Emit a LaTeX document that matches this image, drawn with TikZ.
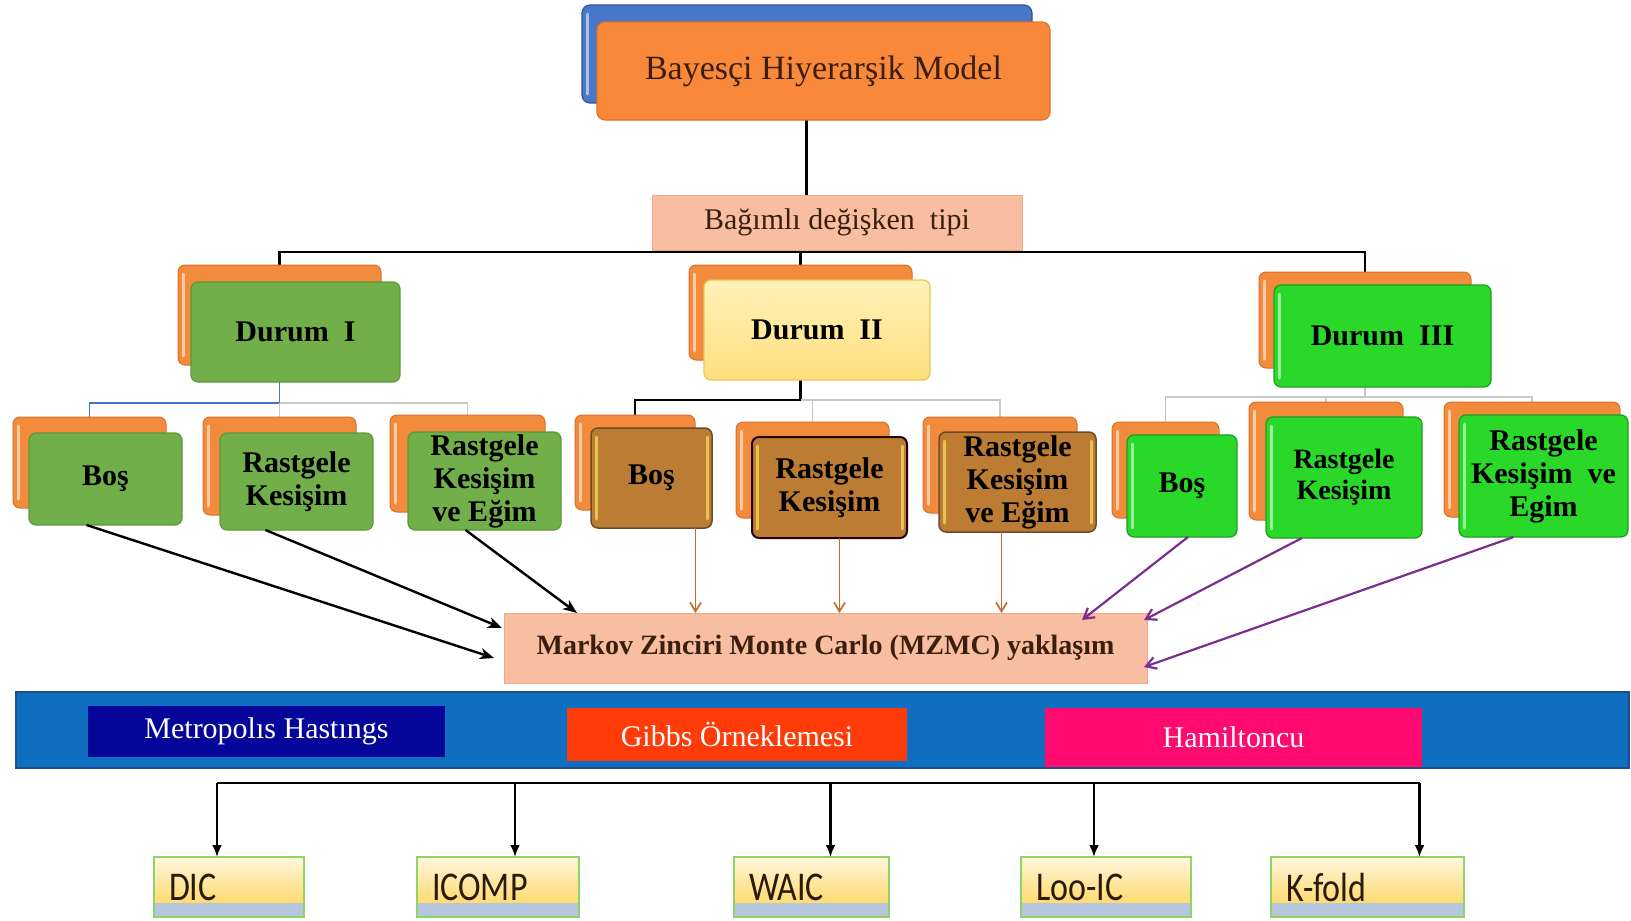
\documentclass[tikz,border=0pt]{standalone}
\usepackage{fontspec}
\usepackage{graphicx}
\setmainfont{Liberation Serif}
\newfontfamily\calfont{Carlito}
\usetikzlibrary{arrows.meta}
\pgfdeclarelayer{bg}
\pgfsetlayers{bg,main}
\definecolor{orback}{HTML}{F28C3C}
\definecolor{orbackd}{HTML}{D9712A}
\definecolor{bblue}{HTML}{4A78C8}
\definecolor{bblued}{HTML}{2F5597}
\definecolor{bor}{HTML}{F8893A}
\definecolor{bord}{HTML}{E0742A}
\definecolor{gone}{HTML}{72AE4A}
\definecolor{goned}{HTML}{5C9A3A}
\definecolor{ytop}{HTML}{FFF2B8}
\definecolor{ybot}{HTML}{FFDF7E}
\definecolor{yd}{HTML}{EAC45A}
\definecolor{brn}{HTML}{BC7C34}
\definecolor{brnd}{HTML}{6E4A2A}
\definecolor{gthree}{HTML}{2AD82A}
\definecolor{gthreed}{HTML}{1E9E1E}
\definecolor{salm}{HTML}{F8BEA2}
\definecolor{salmd}{HTML}{F0A888}
\definecolor{bandc}{HTML}{0E6FC1}
\definecolor{bandd}{HTML}{1F4E8F}
\definecolor{mhc}{HTML}{05059A}
\definecolor{gibc}{HTML}{FF3B0A}
\definecolor{hamc}{HTML}{FF0A6E}
\definecolor{txtd}{HTML}{3B1E0E}
\definecolor{orarr}{HTML}{C46A2C}
\definecolor{purarr}{HTML}{7A2E8E}
\definecolor{lgray}{HTML}{C8C8C8}
\definecolor{linkblue}{HTML}{4472C4}
\definecolor{crtop}{HTML}{FFF6DE}
\definecolor{crbot}{HTML}{FFD24D}
\definecolor{strip}{HTML}{B4C7DC}
\definecolor{bxgreen}{HTML}{8FD46A}
\definecolor{crtxt}{HTML}{2A1A0A}
\newcommand\placebox[8][]{%
  \pgfmathsetmacro\pbcx{(#4+#6)/2}\pgfmathsetmacro\pbcy{(#5+#7)/2}%
  \pgfmathsetmacro\pbw{#6-#4}\pgfmathsetmacro\pbh{#7-#5}%
  \node[#3, minimum width=\pbw pt, minimum height=\pbh pt, #1] (#2) at (\pbcx,\pbcy) {#8};}
\begin{document}
\begin{tikzpicture}[x=1pt,y=-1pt,
  every node/.style={inner sep=0pt, outer sep=0pt},
  hil/.style={path picture={\draw[#1, line width=3pt, opacity=0.55, line cap=round] ([xshift=5pt,yshift=-9pt]path picture bounding box.north west) -- ([xshift=5pt,yshift=9pt]path picture bounding box.south west);}},
  hilr/.style={path picture={\draw[#1, line width=3pt, opacity=0.6, line cap=round] ([xshift=5pt,yshift=-9pt]path picture bounding box.north west) -- ([xshift=5pt,yshift=9pt]path picture bounding box.south west);
      \draw[#1, line width=3pt, opacity=0.6, line cap=round] ([xshift=-5pt,yshift=-9pt]path picture bounding box.north east) -- ([xshift=-5pt,yshift=9pt]path picture bounding box.south east);}},
  backbox/.style={rounded corners=7pt, fill=orback, draw=orbackd, line width=1pt, hil=white},
  gonebox/.style={rounded corners=7pt, fill=gone, draw=goned, line width=1.2pt, align=center, font=\fontsize{30}{33}\selectfont\bfseries},
  ybox/.style={rounded corners=7pt, top color=ytop, bottom color=ybot, draw=yd, line width=1.2pt, align=center, font=\fontsize{30}{33}\selectfont\bfseries},
  brbox/.style={rounded corners=7pt, fill=brn, draw=brnd, line width=1.5pt, hilr=yellow!60!white, align=center, font=\fontsize{30}{33}\selectfont\bfseries},
  gthbox/.style={rounded corners=7pt, fill=gthree, draw=gthreed, line width=1.2pt, hil=white, align=center, font=\fontsize{30}{33}\selectfont\bfseries},
  crit/.style={top color=crtop, bottom color=crbot, draw=bxgreen, line width=1.2pt, align=left, inner xsep=15pt, text=crtxt,
      font=\calfont\fontsize{34}{40}\selectfont,
      path picture={\fill[strip] (path picture bounding box.south west) rectangle ([yshift=14pt]path picture bounding box.south east);}},
  bandtxt/.style={text=white, font=\fontsize{30}{34}\selectfont},
  blk/.style={line width=2.4pt, -{Stealth[length=14pt,width=11pt,inset=4pt]}},
  orr/.style={draw=orarr, line width=1.7pt, -{Straight Barb[length=9pt,width=11pt]}},
  pur/.style={draw=purarr, line width=2.2pt, -{Straight Barb[length=10pt,width=12pt]}},
  dwn/.style={line width=2.4pt, -{Latex[length=12pt,width=10pt]}},
  tree/.style={line width=2.5pt},
  ltree/.style={draw=lgray, line width=1.5pt}
]
\useasboundingbox (0,0) rectangle (1631,921);
\begin{pgfonlayer}{bg}
\fill[white] (0,0) rectangle (1631,921);
\end{pgfonlayer}

% top model
\placebox{bayesb}{rounded corners=8pt, fill=bblue, draw=bblued, line width=1.2pt, hil=white}{582}{5}{1032}{103}{}
\placebox{bayes}{rounded corners=8pt, fill=bor, draw=bord, line width=1.2pt, text=txtd, font=\fontsize{34}{38}\selectfont}{597}{22}{1050}{120}{\raisebox{-4pt}{Bayesçi Hiyerarşik Model}}
\placebox{bag}{fill=salm, draw=salmd, line width=1pt, text=txtd, font=\fontsize{30}{34}\selectfont}{652}{195}{1022}{250}{\raisebox{-3pt}{Bağımlı değişken\ \ tipi}}

% Durum boxes
\placebox{d1b}{backbox}{178}{265}{381}{365}{}
\placebox{d1f}{gonebox}{191}{282}{400}{382}{Durum\ \ I}
\placebox{d2b}{backbox}{689}{265}{912}{360}{}
\placebox{d2f}{ybox}{704}{280}{930}{380}{Durum\ \ II}
\placebox{d3b}{backbox}{1259}{272}{1471}{368}{}
\placebox{d3f}{gthbox}{1274}{285}{1491}{387}{Durum\ \ III}

% children I
\placebox{b1b}{backbox}{13}{417}{166}{508}{}
\placebox{b1f}{gonebox}{29}{433}{182}{525}{Boş}
\placebox{r1b}{backbox}{203}{417}{356}{515}{}
\placebox{r1f}{gonebox}{220}{433}{373}{530}{Rastgele\\Kesişim}
\placebox{e1b}{backbox}{390}{415}{545}{512}{}
\placebox{e1f}{gonebox}{408}{432}{561}{530}{Rastgele\\Kesişim\\ve Eğim}
% children II
\placebox{b2b}{backbox}{575}{415}{695}{510}{}
\placebox{b2f}{brbox}{591}{428}{712}{528}{Boş}
\placebox{r2b}{backbox}{736}{422}{889}{518}{}
\placebox{r2f}{brbox, draw=black!80!purple, line width=2pt}{752}{437}{907}{538}{Rastgele\\Kesişim}
\placebox{e2b}{backbox}{923}{417}{1077}{513}{}
\placebox{e2f}{brbox}{939}{432}{1096}{532}{Rastgele\\Kesişim\\ve Eğim}
% children III
\placebox{b3b}{backbox}{1112}{422}{1219}{518}{}
\placebox{b3f}{gthbox}{1127}{435}{1237}{537}{Boş}
\placebox{r3b}{backbox}{1249}{402}{1403}{520}{}
\placebox{r3f}{gthbox, font=\fontsize{28}{31}\selectfont\bfseries}{1266}{417}{1422}{538}{Rastgele\\Kesişim}
\placebox{e3b}{backbox}{1444}{402}{1620}{517}{}
\placebox{e3f}{gthbox}{1459}{415}{1628}{537}{Rastgele\\Kesişim\ \ ve\\Egim}

% MZMC
\placebox{mz}{fill=salm, draw=salmd, line width=1pt, text=txtd, font=\fontsize{28}{32}\selectfont\bfseries}{504}{613}{1147}{683}{Markov Zinciri Monte Carlo (MZMC) yaklaşım}

% band
\placebox{band}{fill=bandc, draw=bandd, line width=1.5pt}{16}{692}{1629}{768}{}
\placebox{mh}{fill=mhc, bandtxt}{88}{706}{445}{757}{\raisebox{-3pt}{Metropolıs Hastıngs}}
\placebox{gib}{fill=gibc, bandtxt}{567}{708}{907}{761}{Gibbs Örneklemesi}
\placebox{ham}{fill=hamc, bandtxt}{1045}{708}{1422}{767}{Hamiltoncu}

% criteria
\placebox{dic}{crit, text width=120pt}{154}{857}{304}{917}{\scalebox{1}[1.2]{DIC}}
\placebox{icomp}{crit, text width=132pt}{417}{857}{579}{917}{\scalebox{1}[1.2]{ICOMP}}
\placebox{waic}{crit, text width=125pt}{734}{857}{889}{917}{\scalebox{1}[1.2]{WAIC}}
\placebox{loo}{crit, text width=140pt}{1021}{857}{1191}{917}{\scalebox{1}[1.2]{Loo-IC}}
\placebox{kf}{crit, text width=163pt}{1271}{857}{1464}{917}{\scalebox{1}[1.2]{K-fold}}

\coordinate (hb) at (806,252);
\coordinate (h1) at (0,403);
\coordinate (h2) at (0,400);
\coordinate (h3) at (0,397);
\coordinate (hl) at (0,783);

\begin{pgfonlayer}{bg}
  % model to type
  \draw[tree] ([xshift=-17pt]bayes.south) -- ([xshift=-17pt]bayes.south |- bag.north);
  % type to durum
  \draw[tree] (d1b.north) |- (hb) -| (d3b.north);
  \draw[tree] (d2b.north) -- (d2b.north |- hb);
  % durum I
  \draw[draw=linkblue, line width=1.8pt] (b1b.north) |- (d1b.south |- h1) -- (d1b.south);
  \draw[ltree] (d1b.south |- h1) -| (e1b.north);
  \draw[ltree] (r1b.north) -- (r1b.north |- h1);
  % durum II
  \draw[tree] (b2b.north) |- (d2b.south |- h2) -- (d2b.south);
  \draw[ltree] (d2b.south |- h2) -| (e2b.north);
  \draw[ltree] (r2b.north) -- (r2b.north |- h2);
  % durum III
  \draw[ltree] (b3b.north) |- (e3b.north |- h3) -- (e3b.north);
  \draw[ltree] (d3b.south) -- (d3b.south |- h3);
  \draw[ltree] (r3b.north) -- (r3b.north |- h3);
\end{pgfonlayer}

% arrows to MZMC
\draw[blk] ([xshift=-19pt]b1f.south) -- ([xshift=-10pt,yshift=-10pt]mz.west);
\draw[blk] ([xshift=-31pt]r1f.south) -- ([xshift=-2pt,yshift=-15pt]mz.north west);
\draw[blk] ([xshift=-19pt]e1f.south) -- ([xshift=73pt]mz.north west);
\draw[orr] ([xshift=44pt]b2f.south) -- ([xshift=44pt]b2f.south |- mz.north);
\draw[orr] ([xshift=10pt]r2f.south) -- ([xshift=10pt]r2f.south |- mz.north);
\draw[orr] ([xshift=-16pt]e2f.south) -- ([xshift=-16pt]e2f.south |- mz.north);
\draw[pur] ([xshift=6pt]b3f.south) -- ([xshift=-65pt,yshift=-7pt]mz.north east);
\draw[pur] ([xshift=-42pt]r3f.south) -- ([xshift=-3pt,yshift=-7pt]mz.north east);
\draw[pur] ([xshift=-30pt]e3f.south) -- ([xshift=-3pt,yshift=-19pt]mz.east);

% criteria arrows
\draw[line width=2.4pt] ([xshift=-12pt]dic.north |- hl) -- ([xshift=52pt]kf.north |- hl);
\draw[dwn] ([xshift=-12pt]dic.north |- hl) -- ([xshift=-12pt]dic.north);
\draw[dwn] ([xshift=17pt]icomp.north |- hl) -- ([xshift=17pt]icomp.north);
\draw[dwn] ([xshift=19pt]waic.north |- hl) -- ([xshift=19pt]waic.north);
\draw[dwn] ([xshift=-12pt]loo.north |- hl) -- ([xshift=-12pt]loo.north);
\draw[dwn] ([xshift=52pt]kf.north |- hl) -- ([xshift=52pt]kf.north);
\end{tikzpicture}
\end{document}
